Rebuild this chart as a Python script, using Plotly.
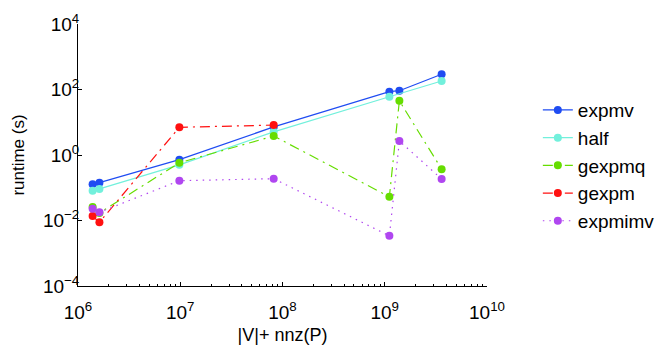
import plotly.graph_objects as go

# x values: |V| + nnz(P)
x_all = [1.39e6, 1.62e6, 9.8e6, 8.2e7, 1.11e9, 1.39e9, 3.6e9]
x_half = [1.39e6, 1.62e6, 9.8e6, 8.2e7, 1.11e9, 3.6e9]
x_gexpm = [1.39e6, 1.62e6, 9.8e6, 8.2e7]

expmv = [0.127, 0.143, 0.72, 7.2, 86, 92, 291]
half = [0.081, 0.092, 0.50, 5.1, 60, 182]
gexpmq = [0.026, 0.017, 0.58, 3.8, 0.053, 45, 0.37]
gexpm = [0.0137, 0.0088, 7.0, 8.2]
expmimv = [0.023, 0.0178, 0.164, 0.189, 0.0034, 2.67, 0.185]

x_tickvals = [1e6, 1e7, 1e8, 1e9, 1e10]
x_ticktext = ["10<sup>6</sup>", "10<sup>7</sup>", "10<sup>8</sup>", "10<sup>9</sup>", "10<sup>10</sup>"]
y_tickvals = [1e-4, 1e-2, 1, 1e2, 1e4]
y_ticktext = ["10<sup>\u22124</sup>", "10<sup>\u22122</sup>", "10<sup>0</sup>", "10<sup>2</sup>", "10<sup>4</sup>"]

series = [
    ("expmv", x_all, expmv, "#1f4cf2", "solid"),
    ("half", x_half, half, "#72f0dc", "solid"),
    ("gexpmq", x_all, gexpmq, "#66dd00", "10px,5px,2px,5px"),
    ("gexpm", x_gexpm, gexpm, "#ff1010", "10px,5px,2px,5px"),
    ("expmimv", x_all, expmimv, "#b046f0", "1.5px,5px"),
]

fig = go.Figure()
for name, xs, ys, col, dash in series:
    fig.add_trace(go.Scatter(
        x=xs, y=ys, name=name, mode="lines+markers",
        line=dict(color=col, width=1.2, dash=dash),
        marker=dict(color=col, size=8),
    ))

font = "Liberation Sans, Arial, sans-serif"
fig.update_layout(
    width=664, height=345,
    margin=dict(l=78, r=177, t=24, b=59),
    paper_bgcolor="white", plot_bgcolor="white",
    font=dict(family=font, size=16, color="black"),
    showlegend=True,
    legend=dict(xref="container", yref="container", x=0.81, y=0.736,
                xanchor="left", yanchor="top",
                font=dict(size=19), tracegroupgap=0,
                bgcolor="rgba(0,0,0,0)"),
)
fig.update_xaxes(
    type="log", range=[6, 10], tickmode="array", tickvals=x_tickvals, ticktext=x_ticktext,
    automargin=False,
    showline=True, linecolor="black", linewidth=1, mirror=False,
    ticks="inside", ticklen=4, tickcolor="black", showgrid=False, zeroline=False,
    minor=dict(ticks="inside", ticklen=2, tickcolor="black", dtick="D1", showgrid=False),
    title=dict(text="|V|+ nnz(P)", font=dict(size=18), standoff=9),
    tickfont=dict(size=19), ticklabelstandoff=9,
)
fig.update_yaxes(
    type="log", range=[-4, 4], tickmode="array", tickvals=y_tickvals, ticktext=y_ticktext,
    automargin=False,
    showline=True, linecolor="black", linewidth=1, mirror=False,
    ticks="inside", ticklen=4, tickcolor="black", showgrid=False, zeroline=False,
    title=dict(text="runtime (s)", font=dict(size=17), standoff=13),
    tickfont=dict(size=19), ticklabelstandoff=-6,
)

fig.write_html("out.html", config={"displayModeBar": False},
               post_script="document.body.style.margin='0';")
